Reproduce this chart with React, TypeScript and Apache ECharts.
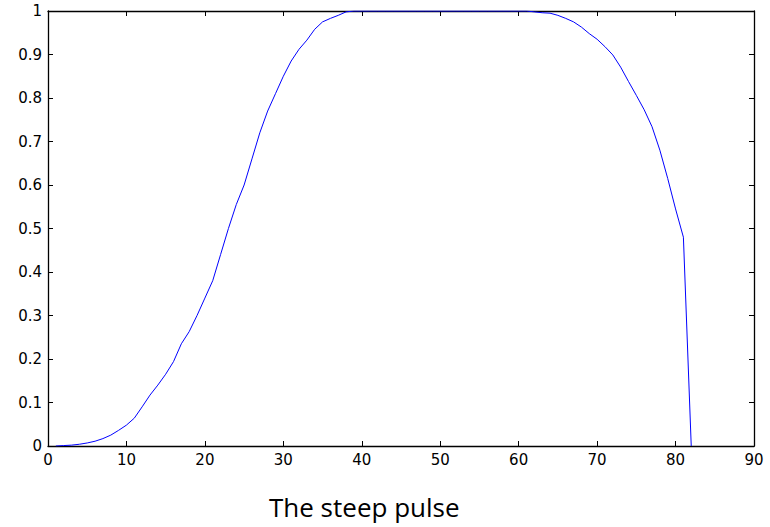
import React, { useEffect, useRef } from "react";
import * as echarts from "echarts";

const xValues: number[] = [
  1, 2, 3, 4, 5, 6, 7, 8, 9, 10, 11, 12, 13, 14, 15, 16, 17, 18, 19, 20,
  21, 22, 23, 24, 25, 26, 27, 28, 29, 30, 31, 32, 33, 34, 35, 36, 37, 38, 39, 40,
  41, 42, 43, 44, 45, 46, 47, 48, 49, 50, 51, 52, 53, 54, 55, 56, 57, 58, 59, 60,
  61, 62, 63, 64, 65, 66, 67, 68, 69, 70, 71, 72, 73, 74, 75, 76, 77, 78, 79, 80,
  81, 82,
];

const yValues: number[] = [
  0, 0.001, 0.002, 0.004, 0.007, 0.011, 0.017, 0.025, 0.036, 0.048,
  0.064, 0.09, 0.117, 0.14, 0.165, 0.194, 0.235, 0.263, 0.3, 0.34,
  0.38, 0.44, 0.5, 0.555, 0.6, 0.66, 0.72, 0.77, 0.81, 0.85,
  0.885, 0.912, 0.933, 0.958, 0.975, 0.983, 0.99, 0.998, 1, 1,
  1, 1, 1, 1, 1, 1, 1, 1, 1, 1,
  1, 1, 1, 1, 1, 1, 1, 1, 1, 1,
  1, 0.998, 0.996, 0.995, 0.99, 0.983, 0.975, 0.963, 0.948, 0.935,
  0.918, 0.899, 0.871, 0.838, 0.806, 0.773, 0.734, 0.68, 0.615, 0.545,
  0.48, 0,
];

const title = "The steep pulse";

export default function App() {
  const ref = useRef<HTMLDivElement>(null);
  useEffect(() => {
    if (!ref.current) return;
    const chart = echarts.init(ref.current, undefined, { renderer: "svg" });
    const labelStyle = {
      color: "#000",
      fontSize: 15,
      fontFamily: "DejaVu Sans, Liberation Sans, sans-serif",
    };
    const tick = { show: true, inside: true, length: 5, lineStyle: { color: "#000", width: 1 } };
    const line = { show: true, onZero: false, lineStyle: { color: "#000", width: 1.3 } };
    chart.setOption({
      animation: false,
      backgroundColor: "#fff",
      grid: { left: 48, right: 16, top: 11, bottom: 81, containLabel: false },
      title: {
        text: title,
        left: 264,
        bottom: 2,
        textStyle: {
          fontSize: 26,
          fontWeight: "normal",
          color: "#000",
          fontFamily: "Open Sans, Noto Sans, sans-serif",
        },
      },
      xAxis: [
        {
          type: "value",
          min: 0,
          max: 90,
          interval: 10,
          position: "bottom",
          axisLine: line,
          axisTick: tick,
          splitLine: { show: false },
          axisLabel: { ...labelStyle, margin: 6 },
        },
        {
          type: "value",
          min: 0,
          max: 90,
          interval: 10,
          position: "top",
          axisLine: line,
          axisTick: tick,
          splitLine: { show: false },
          axisLabel: { show: false },
        },
      ],
      yAxis: [
        {
          type: "value",
          min: 0,
          max: 1,
          interval: 0.1,
          position: "left",
          axisLine: line,
          axisTick: tick,
          splitLine: { show: false },
          axisLabel: {
            ...labelStyle,
            margin: 6,
            formatter: (v: number) => String(Math.round(v * 10) / 10),
          },
        },
        {
          type: "value",
          min: 0,
          max: 1,
          interval: 0.1,
          position: "right",
          axisLine: line,
          axisTick: tick,
          splitLine: { show: false },
          axisLabel: { show: false },
        },
      ],
      series: [
        {
          type: "line",
          data: xValues.map((x, i) => [x, yValues[i]]),
          showSymbol: false,
          symbol: "none",
          lineStyle: { color: "#0000ff", width: 1 },
          xAxisIndex: 0,
          yAxisIndex: 0,
        },
      ],
    });
    return () => chart.dispose();
  }, []);
  return (
    <div
      ref={ref}
      style={{ position: "absolute", left: 0, top: 0, width: 770, height: 527 }}
    />
  );
}
